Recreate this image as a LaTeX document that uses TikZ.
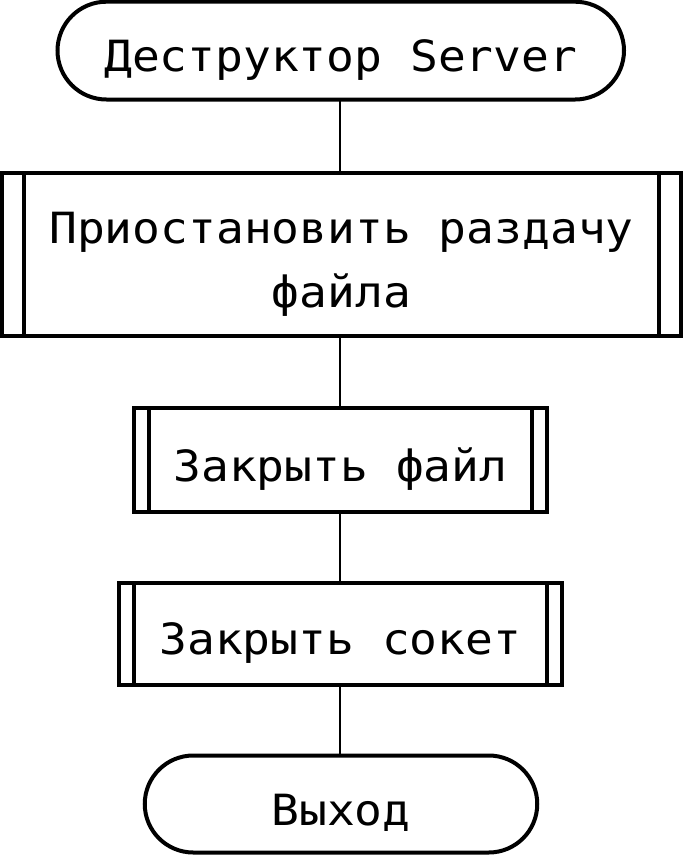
\documentclass[tikz,border=0pt]{standalone}
\usepackage{fontspec}
\newfontfamily\monofnt[FakeStretch=1.075]{DejaVu Sans Mono}
\begin{document}
\begin{tikzpicture}[x=1pt,y=-1pt,
  every node/.style={inner sep=0pt,outer sep=0pt},
  txt/.style={font=\monofnt\fontsize{43}{64}\selectfont,text height=42pt,text depth=0pt,align=center},
  terminal/.style={txt,draw,line width=4pt,rounded corners=#1},
  proc/.style={txt,draw,line width=4pt},
  inner/.style={line width=4pt},
  conn/.style={line width=2pt}]
\useasboundingbox (0,0) rectangle (683,855);
\node[terminal=48.9pt,minimum width=566.5pt,minimum height=97.8pt] (t1) at (340.75,50.6) {Деструктор Server};
\node[proc,minimum width=679.5pt,minimum height=163pt,text height=105pt] (p1) at (341.5,254.5) {Приостановить раздачу\\файла};
\node[proc,minimum width=413.3pt,minimum height=104.3pt] (p2) at (340.4,460.2) {Закрыть файл};
\node[proc,minimum width=443.2pt,minimum height=101.7pt] (p3) at (340.4,633.7) {Закрыть сокет};
\node[terminal=48.5pt,minimum width=392.5pt,minimum height=97pt] (t2) at (341,804) {Выход};
\draw[inner] ([xshift=22pt]p1.north west) -- ([xshift=22pt]p1.south west);
\draw[inner] ([xshift=-22pt]p1.north east) -- ([xshift=-22pt]p1.south east);
\draw[inner] ([xshift=15pt]p2.north west) -- ([xshift=15pt]p2.south west);
\draw[inner] ([xshift=-15pt]p2.north east) -- ([xshift=-15pt]p2.south east);
\draw[inner] ([xshift=15pt]p3.north west) -- ([xshift=15pt]p3.south west);
\draw[inner] ([xshift=-15pt]p3.north east) -- ([xshift=-15pt]p3.south east);
\draw[conn] (t1.south -| 340,0) -- (p1.north -| 340,0);
\draw[conn] (p1.south -| 340,0) -- (p2.north -| 340,0);
\draw[conn] (p2.south -| 340,0) -- (p3.north -| 340,0);
\draw[conn] (p3.south -| 340,0) -- (t2.north -| 340,0);
\end{tikzpicture}
\end{document}
